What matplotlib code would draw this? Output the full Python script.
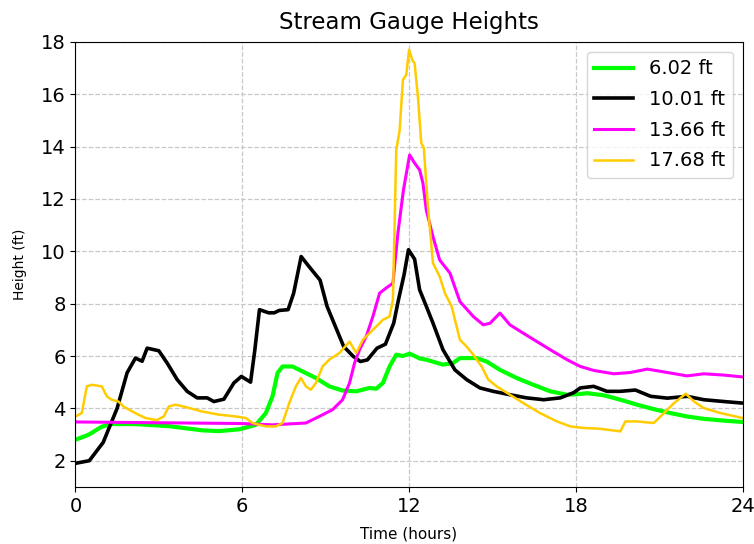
import matplotlib
matplotlib.use("Agg")
import matplotlib.pyplot as plt

# digitized gauge readings (hours, feet)
t_green = [0, 0.47, 0.95, 1.3, 2.15, 3.36, 4.56, 5.16, 5.9, 6.49, 6.85, 7.09, 7.27, 7.45, 7.81,
           8.17, 8.65, 9.13, 9.61, 10.1, 10.58, 10.82, 11.06, 11.3, 11.54, 11.78, 12.02, 12.4,
           12.62, 13.22, 13.58, 13.83, 14.43, 14.79, 15.27, 15.87, 16.47, 17.08, 17.68, 18.16,
           18.4, 19.0, 19.6, 20.2, 20.8, 21.4, 22.0, 22.6, 23.33, 24.0]
h_green = [2.8, 2.99, 3.3, 3.4, 3.4, 3.32, 3.16, 3.13, 3.2, 3.37, 3.82, 4.46, 5.35, 5.6, 5.6,
           5.41, 5.16, 4.84, 4.68, 4.65, 4.78, 4.75, 4.97, 5.6, 6.05, 6.0, 6.09, 5.9,
           5.86, 5.67, 5.73, 5.92, 5.92, 5.79, 5.47, 5.16, 4.9, 4.65, 4.52, 4.55,
           4.58, 4.5, 4.33, 4.14, 3.97, 3.82, 3.69, 3.6, 3.53, 3.48]

t_black = [0, 0.5, 1.0, 1.5, 1.86, 2.16, 2.4, 2.58, 3.0, 3.3, 3.66, 4.02, 4.38, 4.74, 4.98,
           5.34, 5.7, 5.97, 6.3, 6.45, 6.62, 6.95, 7.15, 7.33, 7.65, 7.85, 8.12, 8.4, 8.8,
           9.05, 9.35, 9.65, 10.0, 10.25, 10.5, 10.85, 11.15, 11.45, 11.62, 11.82, 11.98,
           12.2, 12.38, 12.62, 12.86, 13.22, 13.65, 14.07, 14.55, 15.03, 15.63, 16.23, 16.84,
           17.44, 17.92, 18.16, 18.64, 19.12, 19.6, 20.14, 20.69, 21.29, 22.0, 22.6, 23.33, 24.0]
h_black = [1.9, 2.0, 2.7, 4.0, 5.36, 5.92, 5.8, 6.3, 6.2, 5.73, 5.1, 4.65, 4.4, 4.4, 4.26,
           4.35, 4.97, 5.22, 5.0, 6.2, 7.77, 7.65, 7.65, 7.74, 7.77, 8.4, 9.8, 9.42, 8.9,
           7.9, 7.13, 6.36, 5.98, 5.79, 5.85, 6.3, 6.45, 7.26, 8.15, 9.1, 10.06,
           9.7, 8.53, 7.9, 7.26, 6.24, 5.47, 5.1, 4.78, 4.65, 4.52, 4.4, 4.33,
           4.4, 4.6, 4.78, 4.84, 4.65, 4.65, 4.7, 4.46, 4.39, 4.46, 4.33, 4.26, 4.2]

t_magenta = [0, 3.0, 6.0, 7.09, 8.29, 8.77, 9.25, 9.61, 9.86, 10.04, 10.22, 10.46, 10.7, 10.94,
             11.18, 11.42, 11.6, 11.8, 12.02, 12.2, 12.38, 12.5, 12.62, 12.86, 13.1, 13.47,
             13.83, 14.31, 14.67, 14.91, 15.27, 15.63, 16.11, 16.6, 17.08, 17.68, 18.16,
             18.64, 19.36, 19.96, 20.57, 21.29, 22.0, 22.6, 23.33, 24.0]
h_magenta = [3.48, 3.45, 3.42, 3.37, 3.44, 3.69, 3.95, 4.33, 4.97, 5.73, 6.24, 6.75, 7.51, 8.4,
             8.6, 8.78, 10.7, 12.35, 13.68, 13.37, 13.11, 12.6, 11.58, 10.56, 9.67, 9.17,
             8.08, 7.51, 7.19, 7.25, 7.64, 7.19, 6.87, 6.55, 6.24, 5.86, 5.6,
             5.45, 5.32, 5.37, 5.5, 5.37, 5.24, 5.32, 5.27, 5.2]

t_yellow = [0, 0.23, 0.41, 0.59, 0.95, 1.13, 1.3, 1.55, 1.73, 2.15, 2.52, 2.93, 3.18, 3.36, 3.6,
            3.96, 4.56, 5.16, 5.77, 6.13, 6.37, 6.85, 7.21, 7.45, 7.69, 7.93, 8.11, 8.29, 8.47,
            8.65, 8.89, 9.13, 9.49, 9.86, 10.1, 10.34, 10.7, 11.06, 11.3, 11.42, 11.54, 11.66,
            11.78, 11.9, 12.0, 12.12, 12.2, 12.32, 12.44, 12.53, 12.68, 12.86, 13.1, 13.29,
            13.53, 13.83, 14.07, 14.31, 14.61, 14.85, 15.15, 15.63, 16.11, 16.71, 17.32, 17.8,
            18.28, 18.88, 19.6, 19.78, 20.2, 20.8, 21.17, 21.53, 21.95, 22.25, 22.6, 23.2, 24.0]
h_yellow = [3.69, 3.82, 4.84, 4.9, 4.84, 4.46, 4.33, 4.26, 4.07, 3.82, 3.63, 3.55, 3.69, 4.07, 4.14,
            4.05, 3.88, 3.76, 3.69, 3.63, 3.44, 3.31, 3.31, 3.44, 4.2, 4.84, 5.16, 4.84, 4.71,
            4.97, 5.6, 5.86, 6.11, 6.55, 6.11, 6.62, 7.0, 7.38, 7.51, 8.15, 13.87, 14.6,
            16.55, 16.74, 17.7, 17.3, 17.18, 15.9, 14.13, 13.95, 11.71, 9.55, 9.04, 8.4,
            7.9, 6.62, 6.36, 6.05, 5.6, 5.1, 4.84, 4.52, 4.2, 3.82, 3.5, 3.31,
            3.25, 3.22, 3.12, 3.5, 3.5, 3.44, 3.82, 4.2, 4.56, 4.26, 4.01, 3.82, 3.63]

labels = ["6.02 ft", "10.01 ft", "13.66 ft", "17.68 ft"]

fig = plt.figure(figsize=(7.54, 5.44), dpi=100)
ax = fig.add_axes([0.1, 0.105, 0.885, 0.818])

ax.plot(t_green, h_green, color="#00ff00", lw=3.0, label=labels[0])
ax.plot(t_black, h_black, color="black", lw=2.6, label=labels[1])
ax.plot(t_magenta, h_magenta, color="#ff00ff", lw=2.2, label=labels[2])
ax.plot(t_yellow, h_yellow, color="#ffcc00", lw=1.8, label=labels[3])

ax.set_xlim(0, 24)
ax.set_ylim(1, 18)
ax.set_xticks([0, 6, 12, 18, 24])
ax.set_yticks(range(2, 19, 2))
ax.tick_params(labelsize=14)
ax.grid(True, linestyle="--", color="#c8c8c8", lw=0.9)

ax.set_title("Stream Gauge Heights", fontsize=16.5, pad=9)
ax.set_xlabel("Time (hours)", fontsize=11, labelpad=8)
ax.set_ylabel("Height (ft)", fontsize=10, labelpad=10)
ax.legend(loc="upper right", fontsize=14, labelspacing=0.6)

fig.savefig("out.png", dpi=100)
